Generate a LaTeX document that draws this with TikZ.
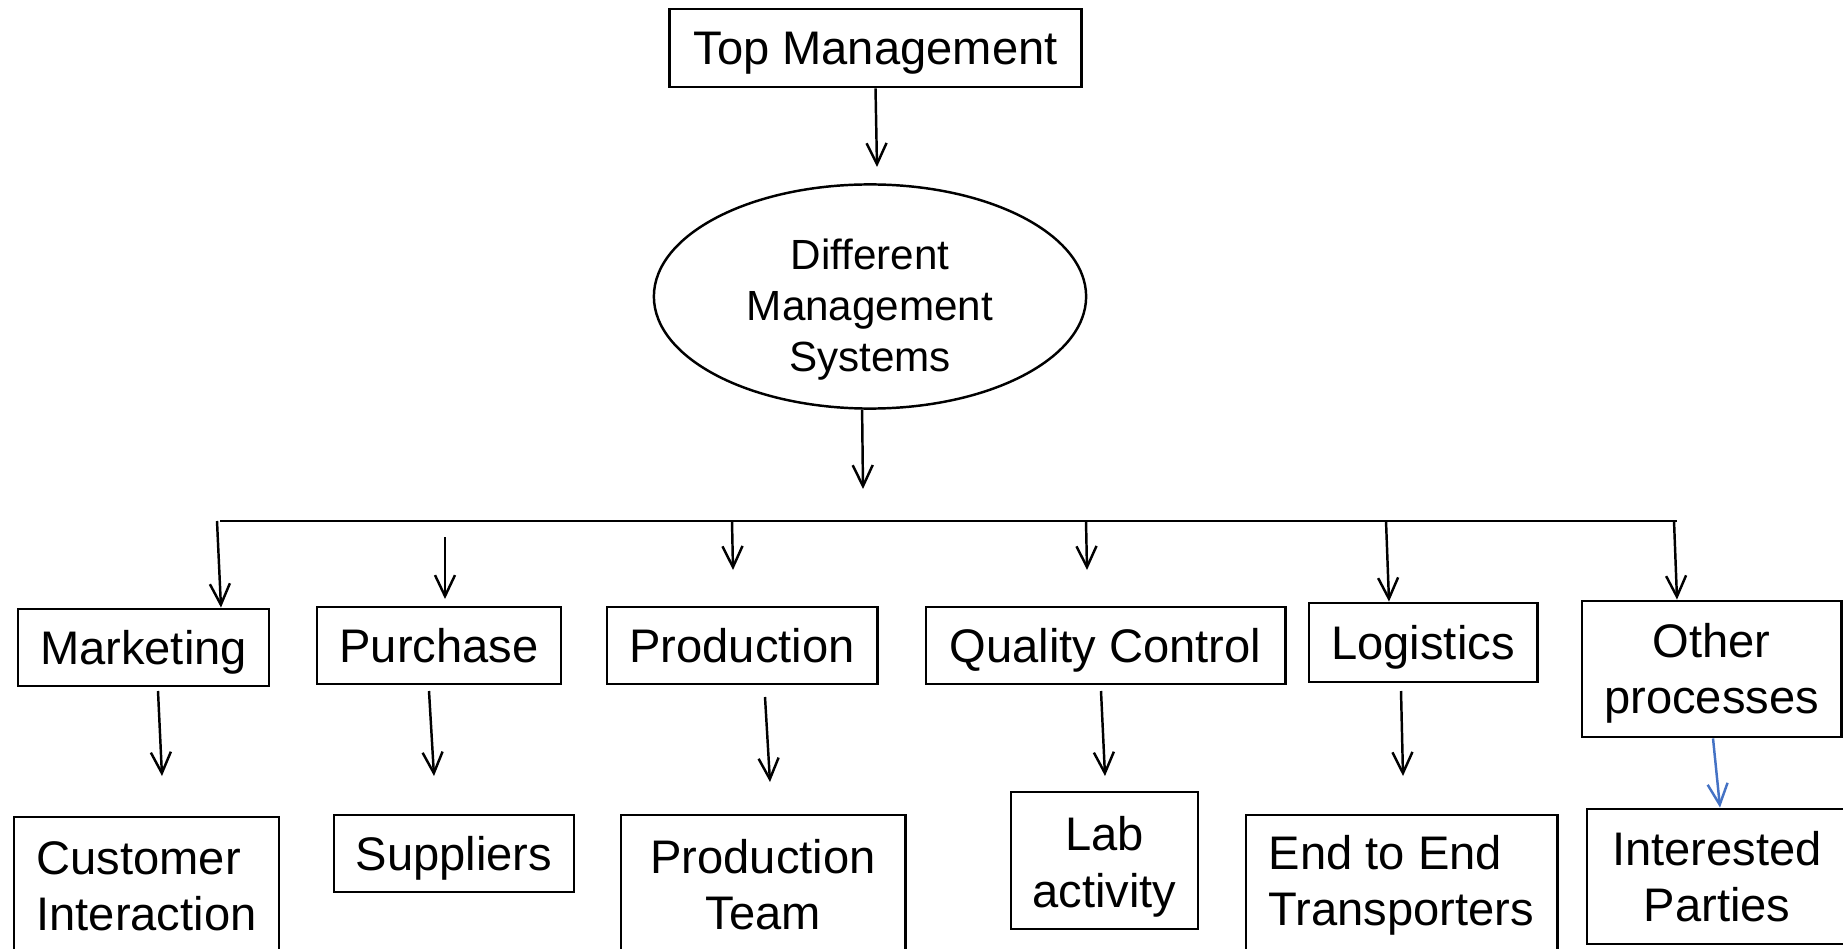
\documentclass[tikz,border=0pt]{standalone}
\usepackage{fontspec}
\setmainfont{Liberation Sans}
\usetikzlibrary{arrows.meta,shapes.geometric}
\definecolor{linkblue}{RGB}{68,114,196}
\newcommand{\lowtext}[2]{\raisebox{-#1}[\height][\depth]{#2}}

\begin{document}
\begin{tikzpicture}[x=0.01cm,y=-0.01cm,
        box/.style={draw, line width=0.8pt, inner sep=0pt, align=center,
            font=\fontsize{13.4}{16}\selectfont},
        onebox/.style={box, text depth=0pt},
        arr/.style={line width=0.7pt, -{Straight Barb[length=2.1mm,width=2mm]}}]
    \useasboundingbox (0,0) rectangle (1843,949);

    \node [onebox, minimum width=4.11cm, minimum height=0.78cm] (top) at (875.5,48) {Top Management};
    \node [draw, ellipse, line width=0.7pt, inner sep=0pt, align=center,
        minimum width=4.32cm, minimum height=2.24cm,
        font=\fontsize{12}{14.5}\selectfont] (dms) at (870,296.5)
        {\lowtext{3.7pt}{Different}\\\lowtext{3.7pt}{Management}\\\lowtext{3.7pt}{Systems}};

    % first row
    \node [onebox, minimum width=2.51cm, minimum height=0.77cm] (mkt) at (143.5,647.5) {Marketing};
    \node [onebox, minimum width=2.44cm, minimum height=0.77cm] (pur) at (439,645.5) {Purchase};
    \node [onebox, minimum width=2.70cm, minimum height=0.77cm] (prod) at (742,645.5) {Production};
    \node [onebox, minimum width=3.59cm, minimum height=0.77cm] (qc) at (1105.5,645.5) {Quality Control};
    \node [onebox, minimum width=2.28cm, minimum height=0.79cm] (log) at (1423,642.5) {Logistics};
    \node [box, minimum width=2.59cm, minimum height=1.36cm] (oth) at (1711.5,669)
        {\lowtext{1.2pt}{Other}\\\lowtext{1.2pt}{processes}};

    % second row
    \node [box, align=left, minimum width=2.65cm, minimum height=1.38cm] (cust) at (146.5,886) {Customer\\Interaction};
    \node [onebox, minimum width=2.40cm, minimum height=0.77cm] (sup) at (454,853.5) {Suppliers};
    \node [box, minimum width=2.84cm, minimum height=1.40cm] (team) at (763,885) {Production\\Team};
    \node [box, minimum width=1.87cm, minimum height=1.37cm] (lab) at (1104.5,860.5)
        {\lowtext{1.8pt}{Lab}\\\lowtext{1.8pt}{activity}};
    \node [box, align=left, minimum width=3.11cm, minimum height=1.40cm] (e2e) at (1401.5,885) {End to End\\Transporters};
    \node [box, minimum width=2.60cm, minimum height=1.35cm] (ip) at (1717,876.5) {Interested\\Parties};

    \coordinate (t1) at (877,167);
    \coordinate (d1) at (863,489);
    \draw [arr] (top.south) -- (t1);
    \draw [arr] (dms.266) -- (d1);

    \coordinate (barL) at (220,521);
    \coordinate (barR) at (1677,521);
    \draw [line width=0.8pt] (barL) -- (barR);

    \coordinate (m0) at (217,521);
    \coordinate (p0) at (445,537);
    \coordinate (p1) at (445,599);
    \coordinate (r0) at (732,521);
    \coordinate (r1) at (733,570);
    \coordinate (q0) at (1086,521);
    \coordinate (q1) at (1087,570);
    \coordinate (l0) at (1386,521);
    \coordinate (o0) at (1674,521);
    \draw [arr] (m0) -- (221,0 |- mkt.north);
    \draw [arr] (p0) -- (p1);
    \draw [arr] (r0) -- (r1);
    \draw [arr] (q0) -- (q1);
    \draw [arr] (l0) -- (1389,0 |- log.north);
    \draw [arr] (o0) -- (1677,0 |- oth.north);

    \coordinate (m2) at (158,691);
    \coordinate (m3) at (162,776);
    \coordinate (p2) at (429,691);
    \coordinate (p3) at (434,776);
    \coordinate (r2) at (765,697);
    \coordinate (r3) at (770,782);
    \coordinate (q2) at (1101,691);
    \coordinate (q3) at (1105,776);
    \coordinate (l2) at (1401,691);
    \coordinate (l3) at (1403,776);
    \draw [arr] (m2) -- (m3);
    \draw [arr] (p2) -- (p3);
    \draw [arr] (r2) -- (r3);
    \draw [arr] (q2) -- (q3);
    \draw [arr] (l2) -- (l3);
    \draw [arr, linkblue] (1713,0 |- oth.south) -- (1720,0 |- ip.north);
\end{tikzpicture}
\end{document}
